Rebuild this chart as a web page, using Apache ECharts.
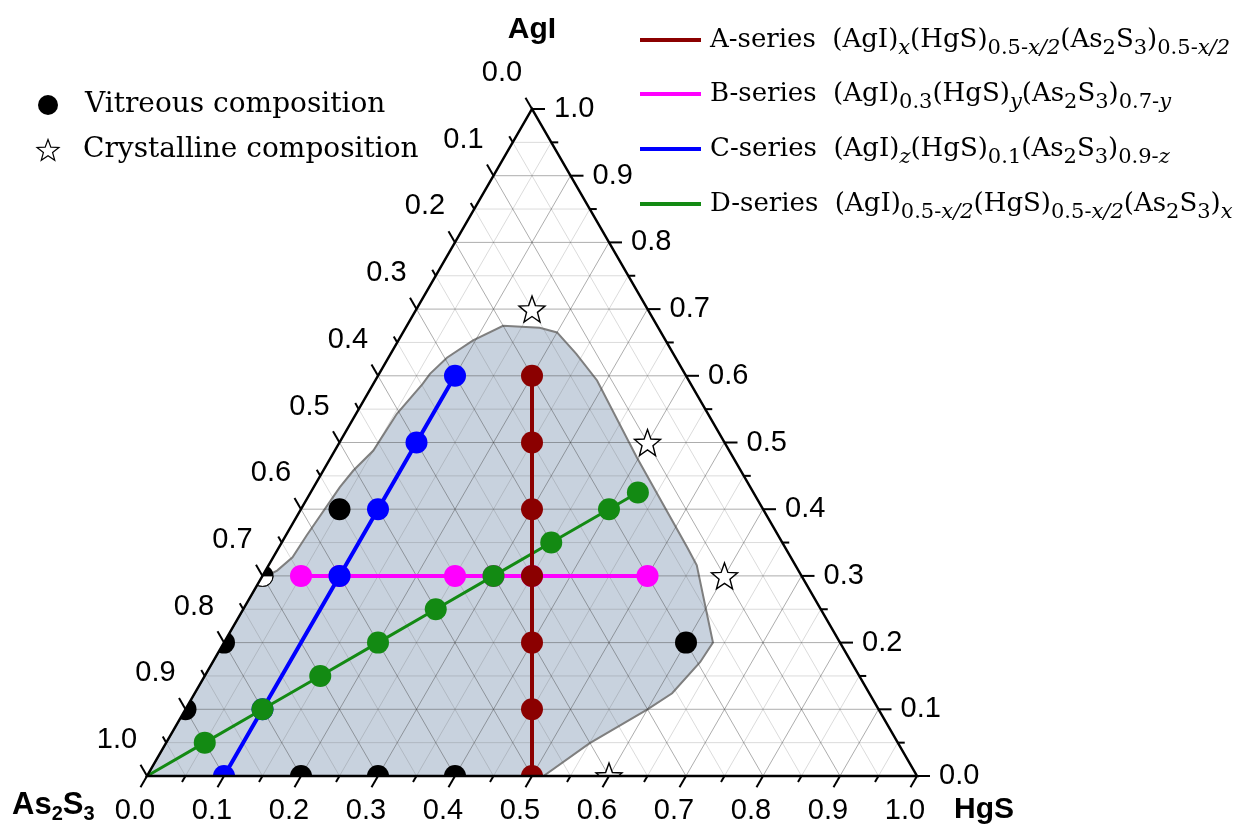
<!DOCTYPE html>
<html><head><meta charset="utf-8">
<script src="https://cdn.jsdelivr.net/npm/echarts@6/dist/echarts.min.js"></script>
<style>html,body{margin:0;padding:0;background:#fff}#c{width:1247px;height:826px}</style>
</head><body><div id="c"></div>
<script>
// ===== DATA (ternary compositions: AgI fraction, HgS fraction; As2S3 = 1 - AgI - HgS) =====
const tickValues = [0,0.05,0.1,0.15,0.2,0.25,0.3,0.35,0.4,0.45,0.5,0.55,0.6,0.65,0.7,0.75,0.8,0.85,0.9,0.95,1.0];
const tickLabels = ['0.0','0.1','0.2','0.3','0.4','0.5','0.6','0.7','0.8','0.9','1.0'];
const gridFractions = [0.05,0.1,0.15,0.2,0.25,0.3,0.35,0.4,0.45,0.5,0.55,0.6,0.65,0.7,0.75,0.8,0.85,0.9,0.95];

const seriesA_AgI = [0, 0.1, 0.2, 0.3, 0.4, 0.5, 0.6];
const seriesA_HgS = [0.5, 0.45, 0.4, 0.35, 0.3, 0.25, 0.2];
const seriesB_AgI = [0.3, 0.3, 0.3, 0.3, 0.3, 0.3];
const seriesB_HgS = [0.05, 0.1, 0.25, 0.3, 0.35, 0.5];
const seriesC_AgI = [0, 0.1, 0.3, 0.4, 0.5, 0.6];
const seriesC_HgS = [0.1, 0.1, 0.1, 0.1, 0.1, 0.1];
const seriesD_AgI = [0, 0.05, 0.1, 0.15, 0.2, 0.25, 0.3, 0.35, 0.4, 0.425];
const seriesD_HgS = [0, 0.05, 0.1, 0.15, 0.2, 0.25, 0.3, 0.35, 0.4, 0.425];

const vitreousAgI = [0.4, 0.2, 0.1, 0, 0, 0, 0.2];
const vitreousHgS = [0.05, 0, 0, 0.2, 0.3, 0.4, 0.6];
const halfVitreousAgI = [0.3];
const halfVitreousHgS = [0];
const crystallineAgI = [0.7, 0.5, 0.3, 0];
const crystallineHgS = [0.15, 0.4, 0.6, 0.6];

const glassAgI = [0, 0, 0.049, 0.1, 0.124, 0.171, 0.2, 0.244, 0.316, 0.343, 0.478, 0.593, 0.633, 0.665, 0.672, 0.675, 0.653, 0.627, 0.603, 0.588, 0.543, 0.488, 0.458, 0.433, 0.361, 0.328, 0.308, 0.296];
const glassHgS = [0, 0.515, 0.55, 0.6, 0.62, 0.633, 0.635, 0.605, 0.556, 0.53, 0.397, 0.288, 0.241, 0.2, 0.174, 0.125, 0.097, 0.076, 0.066, 0.064, 0.053, 0.05, 0.039, 0.034, 0.027, 0.025, 0.015, 0];

const seriesNames = ['A-series', 'B-series', 'C-series', 'D-series'];
const seriesColors = ['#8b0000', '#ff00ff', '#0000ff', '#138a13'];

// ===== helpers =====
const H = Math.sqrt(3) / 2;
function toXY(agi, hgs) { return [hgs + agi / 2, agi * H]; }
function pts(agiArr, hgsArr) { return agiArr.map((a, i) => toXY(a, hgsArr[i])); }
function isMajor(v) { return Math.abs(v * 10 - Math.round(v * 10)) < 1e-6; }

function starPoints(cx, cy, ro, ri) {
  const out = [];
  for (let i = 0; i < 10; i++) {
    const r = i % 2 === 0 ? ro : ri;
    const ang = -Math.PI / 2 + i * Math.PI / 5;
    out.push([cx + r * Math.cos(ang), cy + r * Math.sin(ang)]);
  }
  return out;
}
function starPathStr() {
  return 'path://' + starPoints(50, 52, 50, 21).map((q, i) => (i === 0 ? 'M' : 'L') + q[0].toFixed(2) + ',' + q[1].toFixed(2)).join('') + 'Z';
}
const STAR = starPathStr();

const chart = echarts.init(document.getElementById('c'), null, {renderer: 'canvas'});

const LABEL_FONT = '29px "Liberation Sans", Arial, sans-serif';
const SERIF = '"DejaVu Serif", "Liberation Serif", serif';

const series = [];

// shaded glass-forming region
series.push({
  type: 'custom', coordinateSystem: 'cartesian2d', z: 1, silent: true, clip: false,
  data: [[0, 0]],
  renderItem: (p, api) => ({
    type: 'polygon',
    shape: {points: pts(glassAgI, glassHgS).map(q => api.coord(q))},
    style: {fill: '#c8d2de', stroke: '#7f7f7f', lineWidth: 2}
  })
});

// grid lines
series.push({
  type: 'custom', coordinateSystem: 'cartesian2d', z: 2, silent: true, clip: false,
  data: gridFractions.map(v => [v, 0]),
  renderItem: (p, api) => {
    const v = api.value(0);
    const st = isMajor(v) ? {stroke: 'rgba(60,60,60,0.42)', lineWidth: 1} : {stroke: 'rgba(90,90,90,0.22)', lineWidth: 1};
    const seg = (a, b) => { const p1 = api.coord(a), p2 = api.coord(b); return {type: 'line', shape: {x1: p1[0], y1: p1[1], x2: p2[0], y2: p2[1]}, style: st}; };
    return {type: 'group', children: [
      seg(toXY(v, 0), toXY(v, 1 - v)),
      seg(toXY(0, v), toXY(1 - v, v)),
      seg(toXY(0, 1 - v), toXY(1 - v, 0))
    ]};
  }
});

// composition series lines
const order = [1, 2, 3, 0];
const sAgI = [seriesA_AgI, seriesB_AgI, seriesC_AgI, seriesD_AgI];
const sHgS = [seriesA_HgS, seriesB_HgS, seriesC_HgS, seriesD_HgS];
const widths = [4, 4, 4, 3];
order.forEach((k, j) => {
  let data = pts(sAgI[k], sHgS[k]).map(v => ({value: v}));
  if (k === 3) data[0].symbol = 'none';
  series.push({
    type: 'line', name: seriesNames[k], z: 3 + j, clip: false, silent: true,
    data: data, symbol: 'circle', symbolSize: 22, showSymbol: true,
    lineStyle: {color: seriesColors[k], width: widths[k]},
    itemStyle: {color: seriesColors[k], opacity: 1}
  });
});

// vitreous & crystalline points
series.push({
  type: 'scatter', name: 'Vitreous composition', z: 8, clip: false, silent: true,
  data: pts(vitreousAgI, vitreousHgS), symbol: 'circle', symbolSize: 22,
  itemStyle: {color: '#000', opacity: 1}
});
series.push({
  type: 'custom', coordinateSystem: 'cartesian2d', z: 8, silent: true, clip: false,
  data: pts(halfVitreousAgI, halfVitreousHgS),
  renderItem: (p, api) => {
    const c = api.coord([api.value(0), api.value(1)]);
    return {type: 'group', children: [
      {type: 'circle', shape: {cx: c[0], cy: c[1], r: 11}, style: {fill: '#000'}},
      {type: 'sector', shape: {cx: c[0], cy: c[1], r: 10.5, r0: 0, startAngle: 0, endAngle: Math.PI, clockwise: true}, style: {fill: '#fff', stroke: '#000', lineWidth: 1}}
    ]};
  }
});
series.push({
  type: 'scatter', name: 'Crystalline composition', z: 8, clip: false, silent: true,
  data: pts(crystallineAgI, crystallineHgS), symbol: STAR, symbolSize: 26,
  itemStyle: {color: '#fff', borderColor: '#000', borderWidth: 1.4, opacity: 1}
});

// mask outside triangle (clip markers sitting on the edges)
series.push({
  type: 'custom', coordinateSystem: 'cartesian2d', z: 10, silent: true, clip: false,
  data: [[0, 0]],
  renderItem: (p, api) => {
    const L = api.coord(toXY(0, 0)), R = api.coord(toXY(0, 1)), A = api.coord(toXY(1, 0));
    const strip = (P, Q, nx, ny) => {
      const dx = Q[0] - P[0], dy = Q[1] - P[1], len = Math.hypot(dx, dy);
      const ux = dx / len * 16, uy = dy / len * 16, d = 16;
      return {type: 'polygon', shape: {points: [
        [P[0] - ux, P[1] - uy], [Q[0] + ux, Q[1] + uy],
        [Q[0] + ux + nx * d, Q[1] + uy + ny * d], [P[0] - ux + nx * d, P[1] - uy + ny * d]]},
        style: {fill: '#fff'}};
    };
    return {type: 'group', children: [
      strip(L, R, 0, 1),
      strip(L, A, -H, -0.5),
      strip(R, A, H, -0.5)
    ]};
  }
});

// triangle edges and ticks
series.push({
  type: 'custom', coordinateSystem: 'cartesian2d', z: 11, silent: true, clip: false,
  data: tickValues.map(v => [v, 0]),
  renderItem: (p, api) => {
    const v = api.value(0);
    const len = isMajor(v) ? 13 : 7;
    const st = {stroke: '#000', lineWidth: 2};
    const tick = (q, dx, dy) => { const c = api.coord(q); return {type: 'line', shape: {x1: c[0], y1: c[1], x2: c[0] + dx * len, y2: c[1] + dy * len}, style: st}; };
    const children = [
      tick(toXY(0, v), -0.5, H),        // bottom axis: HgS
      tick(toXY(v, 1 - v), 1, 0),       // right axis: AgI
      tick(toXY(1 - v, 0), -0.5, -H)    // left axis: As2S3
    ];
    if (p.dataIndex === 0) {
      const L = api.coord(toXY(0, 0)), R = api.coord(toXY(0, 1)), A = api.coord(toXY(1, 0));
      children.push({type: 'polygon', shape: {points: [L, R, A]}, style: {fill: 'none', stroke: '#000', lineWidth: 2.5, lineJoin: 'miter'}});
    }
    return {type: 'group', children};
  }
});

// tick labels
series.push({
  type: 'custom', coordinateSystem: 'cartesian2d', z: 11, silent: true, clip: false,
  data: tickLabels.map(t => [parseFloat(t), 0]),
  renderItem: (p, api) => {
    const v = api.value(0);
    const t = tickLabels[p.dataIndex];
    const b = api.coord(toXY(0, v)), r = api.coord(toXY(v, 1 - v)), l = api.coord(toXY(1 - v, 0));
    const txt = (x, y, align) => ({type: 'text', x, y, style: {text: t, font: LABEL_FONT, fill: '#000', align, verticalAlign: 'middle'}});
    return {type: 'group', children: [
      txt(b[0] - 12, b[1] + 35, 'center'),
      txt(r[0] + 22, r[1], 'left'),
      txt(l[0] - 30, l[1] - 36, 'center')
    ]};
  }
});

// ---- legends & titles (graphic) ----
const subRich = {
  n: {font: '26px ' + SERIF, fill: '#000', lineHeight: 38},
  s: {font: '21px ' + SERIF, fill: '#000', lineHeight: 21, verticalAlign: 'bottom'},
  si: {font: 'italic 21px ' + SERIF, fill: '#000', lineHeight: 21, verticalAlign: 'bottom'}
};
const legendTexts = [
  '{n|A-series  (AgI)}{si|x}{n|(HgS)}{s|0.5-}{si|x/2}{n|(As}{s|2}{n|S}{s|3}{n|)}{s|0.5-}{si|x/2}',
  '{n|B-series  (AgI)}{s|0.3}{n|(HgS)}{si|y}{n|(As}{s|2}{n|S}{s|3}{n|)}{s|0.7-}{si|y}',
  '{n|C-series  (AgI)}{si|z}{n|(HgS)}{s|0.1}{n|(As}{s|2}{n|S}{s|3}{n|)}{s|0.9-}{si|z}',
  '{n|D-series  (AgI)}{s|0.5-}{si|x/2}{n|(HgS)}{s|0.5-}{si|x/2}{n|(As}{s|2}{n|S}{s|3}{n|)}{si|x}'
];
const legendY = [40, 94, 149, 204];
const graphics = [];
legendY.forEach((y, i) => {
  graphics.push({type: 'line', shape: {x1: 640, y1: y, x2: 701, y2: y}, style: {stroke: seriesColors[i], lineWidth: 4}});
  graphics.push({type: 'text', x: 710, y: y, style: {text: legendTexts[i], rich: subRich, font: '26px ' + SERIF, fill: '#000', align: 'left', verticalAlign: 'middle'}});
});
graphics.push({type: 'circle', shape: {cx: 48, cy: 105, r: 10}, style: {fill: '#000'}});
graphics.push({type: 'polygon', shape: {points: starPoints(48, 151, 11.5, 4.8)}, style: {fill: 'none', stroke: '#000', lineWidth: 1.2}});
graphics.push({type: 'text', x: 85, y: 105, style: {text: 'Vitreous composition', font: '28px ' + SERIF, fill: '#000', align: 'left', verticalAlign: 'middle'}});
graphics.push({type: 'text', x: 83, y: 150, style: {text: 'Crystalline composition', font: '28px ' + SERIF, fill: '#000', align: 'left', verticalAlign: 'middle'}});

const TITLE_FONT = 'bold 30px "Liberation Sans", Arial, sans-serif';
graphics.push({type: 'text', x: 532, y: 30, style: {text: 'AgI', font: TITLE_FONT, fill: '#000', align: 'center', verticalAlign: 'middle'}});
graphics.push({type: 'text', x: 954, y: 810, style: {text: 'HgS', font: TITLE_FONT, fill: '#000', align: 'left', verticalAlign: 'middle'}});
graphics.push({type: 'text', x: 12, y: 805, style: {
  text: '{b|As}{s|2}{b|S}{s|3}',
  rich: {
    b: {font: 'bold 31px "Liberation Sans", Arial, sans-serif', fill: '#000', lineHeight: 38},
    s: {font: 'bold 20px "Liberation Sans", Arial, sans-serif', fill: '#000', lineHeight: 20, verticalAlign: 'bottom'}
  },
  align: 'left', verticalAlign: 'middle'}});

chart.setOption({
  animation: false,
  backgroundColor: '#fff',
  grid: {left: 147, top: 109, width: 770, height: 667, containLabel: false},
  xAxis: {type: 'value', min: 0, max: 1, show: false},
  yAxis: {type: 'value', min: 0, max: H, show: false},
  graphic: {elements: graphics},
  series: series
});
</script></body></html>
